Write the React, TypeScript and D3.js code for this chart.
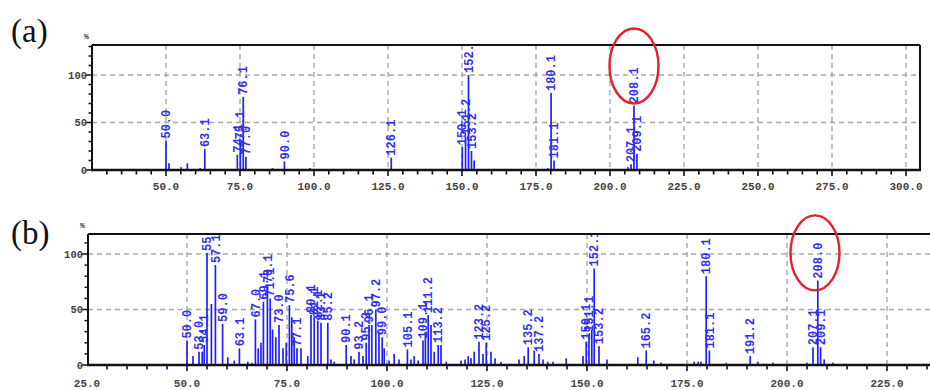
import React, { useEffect } from "react";
import * as d3 from "d3";

// ---------- data ----------
const A_MZ = [50.0, 51.0, 55.1, 57.2, 61.5, 63.1, 74.1, 75.1, 76.1, 77.0, 86.0, 90.0, 98.6, 102.0, 126.1, 150.1, 151.2, 152.2, 153.2, 154.1, 179.0, 180.1, 181.1, 206.0, 207.1, 208.1, 209.1];
const A_INT = [31, 7, 3, 7, 2, 22, 16, 30, 77, 14, 2, 9, 2, 1, 13, 24, 35, 100, 20, 10, 2, 81, 10, 3, 6, 68, 17];
const A_LABELS = ["50.0", "", "", "", "", "63.1", "74.1", "75.1", "76.1", "77.0", "", "90.0", "", "", "126.1", "150.1", "151.2", "152.2", "153.2", "", "", "180.1", "181.1", "", "207.1", "208.1", "209.1"];

const B_MZ = [50.0, 51.5, 53.0, 53.8, 54.3, 55.0, 56.1, 57.1, 58.9, 60.2, 61.8, 63.1, 65.2, 66.2, 67.1, 67.8, 68.5, 69.1, 70.1, 70.8, 71.4, 72.2, 73.0, 74.0, 74.8, 75.6, 76.2, 76.8, 77.5, 78.5, 80.2, 81.0, 81.8, 82.7, 83.5, 85.2, 86.0, 86.8, 89.8, 91.0, 91.8, 93.0, 94.0, 94.8, 95.5, 96.2, 97.2, 98.0, 98.8, 99.3, 100.5, 101.8, 103.0, 105.1, 106.0, 106.8, 107.8, 109.0, 109.6, 110.3, 111.0, 111.8, 112.8, 113.5, 114.8, 118.5, 119.5, 120.3, 121.0, 121.8, 123.0, 124.0, 124.8, 126.0, 127.0, 128.5, 133.0, 134.3, 135.3, 136.8, 138.0, 139.0, 140.2, 141.5, 144.8, 149.0, 149.8, 150.5, 151.2, 151.8, 153.0, 155.0, 162.7, 164.8, 166.7, 168.5, 176.8, 177.8, 178.5, 179.8, 180.6, 184.8, 190.8, 192.7, 196.5, 205.0, 206.5, 207.7, 208.4, 209.3, 211.5, 223.3];
const B_INT = [22, 8, 12, 12, 18, 101, 55, 90, 37, 7, 4, 15, 3, 2, 41, 15, 20, 57, 72, 60, 32, 25, 36, 15, 20, 54, 43, 25, 15, 15, 8, 45, 43, 40, 38, 38, 5, 3, 18, 8, 5, 12, 8, 20, 36, 36, 50, 30, 25, 15, 4, 10, 5, 14, 5, 8, 4, 22, 30, 45, 36, 12, 18, 18, 3, 4, 5, 8, 6, 12, 21, 10, 20, 12, 6, 3, 5, 8, 16, 13, 10, 5, 3, 3, 6, 8, 21, 28, 32, 87, 17, 5, 7, 13, 4, 2, 3, 3, 3, 80, 13, 2, 8, 3, 2, 2, 16, 76, 16, 5, 2, 1];
const B_LABELS = ["50.0", "", "53.0", "", "54.1", "55.0", "", "57.1", "59.0", "", "", "63.1", "", "", "67.0", "", "", "69.1", "70.1", "71.1", "", "", "73.0", "", "", "75.6", "", "", "77.1", "", "", "80.1", "81.1", "82.1", "83.1", "85.2", "", "", "90.1", "", "", "93.2", "", "95.2", "96.1", "", "97.2", "", "99.0", "", "", "", "", "105.1", "", "", "", "109.1", "", "111.2", "", "", "113.2", "", "", "", "", "", "", "", "123.2", "", "125.2", "", "", "", "", "", "135.2", "", "137.2", "", "", "", "", "", "150.1", "151.1", "", "152.1", "153.2", "", "", "165.2", "", "", "", "", "", "180.1", "181.1", "", "191.2", "", "", "", "207.1", "208.0", "209.1", "", "", ""];

const A_X_TICKS = [50, 75, 100, 125, 150, 175, 200, 225, 250, 275, 300];
const A_X_TICK_LABELS = ["50.0", "75.0", "100.0", "125.0", "150.0", "175.0", "200.0", "225.0", "250.0", "275.0", "300.0"];
const B_X_TICKS = [25, 50, 75, 100, 125, 150, 175, 200, 225];
const B_X_TICK_LABELS = ["25.0", "50.0", "75.0", "100.0", "125.0", "150.0", "175.0", "200.0", "225.0"];
const Y_TICKS = [0, 50, 100];
const Y_TICK_LABELS = ["0", "50", "100"];
const PANEL_TITLES = ["(a)", "(b)"];
const HIGHLIGHT_MZ = [208.1, 207.0];
const HIGHLIGHT_INT = [109.5, 101];

const BLUE = "#1f1fff";
const LABEL_BLUE = "#3030f0";
const MONO = "'Liberation Mono', 'DejaVu Sans Mono', monospace";

type PanelProps = {
  id: string;
  mz: number[];
  inten: number[];
  labels: string[];
  xDomain: [number, number];
  xRange: [number, number];
  frameLeft: number;
  frameRight: number;
  frameTop: number;
  y0: number;
  y100: number;
  xTicks: number[];
  xTickLabels: string[];
  xLabelY: number;
  title: string;
  titleY: number;
  pctY: number;
  hlMz: number;
  hlInt: number;
};

function Panel(p: PanelProps) {
  const x = d3.scaleLinear().domain(p.xDomain).range(p.xRange);
  const y = d3.scaleLinear().domain([0, 100]).range([p.y0, p.y100]);
  const xMin = x.invert(p.frameLeft);
  const xMax = x.invert(p.frameRight);
  const yMax = y.invert(p.frameTop);
  const minorX = d3.range(Math.ceil(xMin / 5) * 5, xMax + 0.001, 5).filter((v) => x(v) >= p.frameLeft - 0.5 && x(v) <= p.frameRight - 1);
  const minorY = d3.range(0, yMax, 10);
  const clipId = `clip-${p.id}`;
  return (
    <g>
      <defs>
        <clipPath id={clipId}>
          <rect x={p.frameLeft} y={p.frameTop + 1} width={p.frameRight - p.frameLeft} height={p.y0 - p.frameTop} />
        </clipPath>
      </defs>
      <text x={11} y={p.titleY} fontFamily="'Liberation Serif', 'DejaVu Serif', serif" fontSize={33} fill="#111">{p.title}</text>
      <text x={p.frameLeft - 8} y={p.pctY} fontFamily={MONO} fontSize={8} fontWeight="bold" fill="#333">%</text>
      {/* grid */}
      {p.xTicks.filter((t) => x(t) > p.frameLeft + 2).map((t) => (
        <line key={`gx${t}`} x1={x(t)} x2={x(t)} y1={p.frameTop} y2={p.y0} stroke="#a8a8a8" strokeWidth={1.4} strokeDasharray="5,4" />
      ))}
      {Y_TICKS.filter((t) => t > 0).map((t) => (
        <line key={`gy${t}`} x1={p.frameLeft} x2={p.frameRight} y1={y(t)} y2={y(t)} stroke="#a8a8a8" strokeWidth={1.4} strokeDasharray="5,4" />
      ))}
      {/* peaks */}
      <g clipPath={`url(#${clipId})`}>
        {p.mz.map((m, i) => (
          <line key={`p${i}`} x1={x(m)} x2={x(m)} y1={p.y0} y2={y(p.inten[i])} stroke={BLUE} strokeWidth={1.7} />
        ))}
        {p.mz.map((m, i) =>
          p.labels[i] ? (
            <text key={`l${i}`} transform={`translate(${x(m)},${y(p.inten[i]) - 2}) rotate(-90)`} dy="0.35em" fontFamily={MONO} fontSize={12} fontWeight="bold" fill={LABEL_BLUE}>
              {p.labels[i]}
            </text>
          ) : null
        )}
      </g>
      {/* frame */}
      <line x1={p.frameLeft} x2={p.frameRight} y1={p.frameTop} y2={p.frameTop} stroke="#111" strokeWidth={2} />
      <line x1={p.frameLeft} x2={p.frameLeft} y1={p.frameTop} y2={p.y0} stroke="#111" strokeWidth={2} />
      <line x1={p.frameRight} x2={p.frameRight} y1={p.frameTop} y2={p.y0} stroke="#111" strokeWidth={2} />
      <line x1={p.frameLeft - 1} x2={p.frameRight + 1} y1={p.y0} y2={p.y0} stroke="#111" strokeWidth={2.6} />
      {/* x ticks */}
      {minorX.map((t) => {
        const major = p.xTicks.includes(t);
        return <line key={`tx${t}`} x1={x(t)} x2={x(t)} y1={p.y0} y2={p.y0 + (major ? 6 : 4.5)} stroke="#111" strokeWidth={1.6} />;
      })}
      {p.xTicks.map((t, i) => (
        <text key={`xl${t}`} x={x(t)} y={p.xLabelY} textAnchor="middle" fontFamily={MONO} fontSize={11} fontWeight="bold" fill="#444">{p.xTickLabels[i]}</text>
      ))}
      {/* y ticks */}
      {minorY.map((t) => {
        const major = Y_TICKS.includes(t);
        return <line key={`ty${t}`} x1={p.frameLeft - (major ? 6 : 3.5)} x2={p.frameLeft} y1={y(t)} y2={y(t)} stroke="#111" strokeWidth={1.5} />;
      })}
      {Y_TICKS.map((t, i) => (
        <text key={`yl${t}`} x={p.frameLeft - 5} y={y(t)} dy="0.35em" textAnchor="end" fontFamily={MONO} fontSize={10.5} fontWeight="bold" fill="#444">{Y_TICK_LABELS[i]}</text>
      ))}
      {/* highlight */}
      <ellipse cx={x(p.hlMz)} cy={y(p.hlInt)} rx={24.5} ry={37.5} fill="none" stroke="#e4202a" strokeWidth={2.4} />
    </g>
  );
}

export default function App() {
  useEffect(() => {
    document.body.style.margin = "0";
  }, []);
  return (
    <svg width={930} height={390} style={{ position: "absolute", left: 0, top: 0, background: "#fff" }}>
      <rect width={930} height={390} fill="#fff" />
      <Panel
        id="a" mz={A_MZ} inten={A_INT} labels={A_LABELS}
        xDomain={[50, 300]} xRange={[166, 906]}
        frameLeft={92} frameRight={920} frameTop={45} y0={170} y100={75}
        xTicks={A_X_TICKS} xTickLabels={A_X_TICK_LABELS} xLabelY={190}
        title={PANEL_TITLES[0]} titleY={42} pctY={39}
        hlMz={HIGHLIGHT_MZ[0]} hlInt={HIGHLIGHT_INT[0]}
      />
      <Panel
        id="b" mz={B_MZ} inten={B_INT} labels={B_LABELS}
        xDomain={[25, 225]} xRange={[87, 887]}
        frameLeft={88} frameRight={940} frameTop={234} y0={365} y100={254}
        xTicks={B_X_TICKS} xTickLabels={B_X_TICK_LABELS} xLabelY={387}
        title={PANEL_TITLES[1]} titleY={244} pctY={228}
        hlMz={HIGHLIGHT_MZ[1]} hlInt={HIGHLIGHT_INT[1]}
      />
    </svg>
  );
}
